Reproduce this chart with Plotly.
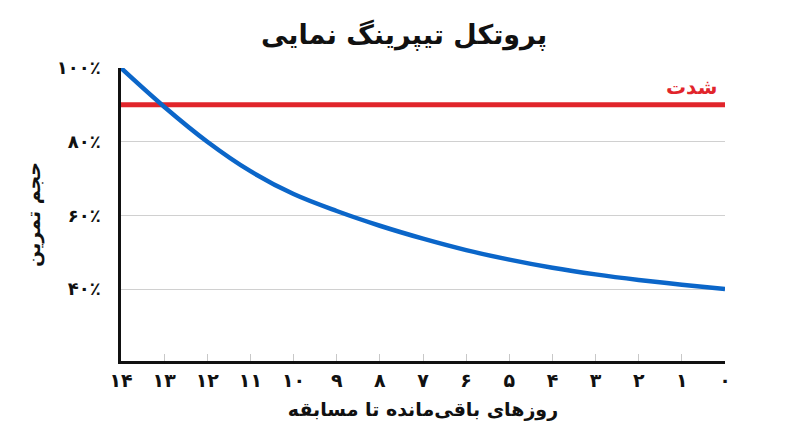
import plotly.graph_objs as go

# روزهای باقی‌مانده تا مسابقه و حجم تمرین (درصد)
days = [14, 13, 12, 11, 10, 9, 8, 7, 6, 5, 4, 3, 2, 1, 0]
volume = [100, 89.5, 80, 72, 65.8, 61.2, 57.2, 53.7, 50.6, 48, 45.8, 44, 42.5, 41.2, 40]
day_labels = ['۱۴', '۱۳', '۱۲', '۱۱', '۱۰', '۹', '۸', '۷', '۶', '۵', '۴', '۳', '۲', '۱', '۰']

intensity = 90
pct_vals = [40, 60, 80, 100]
pct_labels = ['۴۰٪', '۶۰٪', '۸۰٪', '۱۰۰٪']

font = 'DejaVu Sans'

fig = go.Figure()
fig.add_trace(go.Scatter(x=[days[0], days[-1]], y=[intensity, intensity], mode='lines',
                         line=dict(color='#e1252b', width=5), cliponaxis=False,
                         showlegend=False, hoverinfo='skip'))
fig.add_trace(go.Scatter(x=days, y=volume, mode='lines', line_shape='spline',
                         line=dict(color='#0b66c9', width=4.5), cliponaxis=False,
                         showlegend=False))

fig.add_annotation(x=0.15, y=intensity, text='<b>شدت</b>', showarrow=False,
                   xanchor='right', yanchor='bottom', yshift=4,
                   font=dict(family=font, size=20, color='#e1252b'))

# the page body adds an 8px margin, so the figure is drawn 8px smaller
fig.update_layout(
    width=792, height=439,
    margin=dict(l=113, r=75, t=60, b=86),
    paper_bgcolor='white', plot_bgcolor='white',
    title=dict(text='<b>پروتکل تیپرینگ نمایی</b>', x=0.5, xanchor='center', y=0.94,
               yanchor='middle', font=dict(family=font, size=27, color='#111')),
    xaxis=dict(range=[14, 0], tickvals=days, ticktext=['<b>%s</b>' % t for t in day_labels],
               tickfont=dict(family=font, size=19, color='#111'),
               ticks='inside', ticklen=7, tickcolor='#c8c8c8', tickwidth=1,
               showgrid=False, zeroline=False,
               showline=True, linecolor='#111', linewidth=2.5,
               title=dict(text='<b>روزهای باقی‌مانده تا مسابقه</b>', standoff=14,
                          font=dict(family=font, size=19, color='#111'))),
    yaxis=dict(range=[20.5, 100], tickvals=pct_vals, ticktext=['<b>%s</b>' % t for t in pct_labels],
               tickfont=dict(family=font, size=18, color='#111'),
               showgrid=True, gridcolor='#d0d0d0', gridwidth=1, zeroline=False,
               showline=True, linecolor='#111', linewidth=2.5, ticks='',
               ticklabelstandoff=14,
               title=dict(text='<b>حجم تمرین</b>', standoff=12,
                          font=dict(family=font, size=19, color='#111'))),
)

fig.write_html("out.html")
